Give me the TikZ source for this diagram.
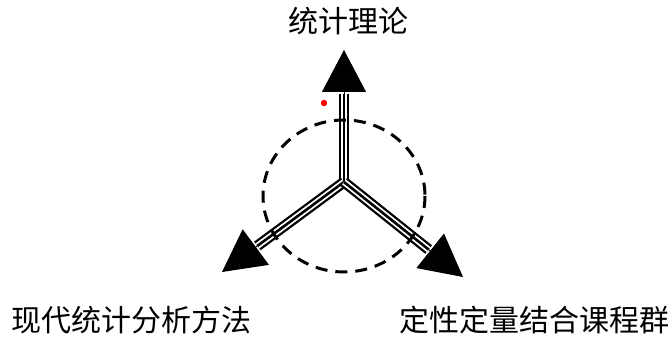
\documentclass[tikz,border=0pt]{standalone}
\usepackage{fontspec}
\newfontfamily\cjk{Noto Sans CJK SC}
\usetikzlibrary{arrows.meta,calc}
\tikzset{
	tripleline/.style={line width=5.4pt, postaction={draw, white, line width=3.1pt}, postaction={draw, black, line width=1.3pt}},
	bigtip/.style={-{Triangle[length=21pt,width=22pt]}, line width=0.5pt},
	lbl/.style={font=\cjk\fontsize{15pt}{18pt}\selectfont, anchor=base, inner sep=0pt}
}
\begin{document}
\begin{tikzpicture}[x=0.5pt,y=-0.5pt]
		\useasboundingbox (0,0) rectangle (670,340);
		%labels
		\node[lbl] (theory) at (348,33) {统计理论};
		\node[lbl] (method) at (131,332) {现代统计分析方法};
		\node[lbl] (course) at (534,332) {定性定量结合课程群};
		%centre and arrow tips
		\coordinate (centre) at (344,182);
		\coordinate (tipup) at (344,50);
		\coordinate (tipleft) at (222,272);
		\coordinate (tipright) at (463,277);
		\coordinate (baseup) at ($(tipup)!22pt!(centre)$);
		\coordinate (baseleft) at ($(tipleft)!22pt!(centre)$);
		\coordinate (baseright) at ($(tipright)!22pt!(centre)$);
		%triple lines
		\draw[tripleline] (centre) -- (baseup);
		\draw[tripleline] (centre) -- (baseleft);
		\draw[tripleline] (centre) -- (baseright);
		%arrow heads
		\draw[bigtip] (baseup) -- (tipup);
		\draw[bigtip] (baseleft) -- (tipleft);
		\draw[bigtip] (baseright) -- (tipright);
		%dashed circle and red dot
		\draw[line width=1.5pt, dash pattern=on 6pt off 4pt] (344,196) ellipse (81 and 76);
		\fill[red] (324,103) circle (1.6pt);
	\end{tikzpicture}
\end{document}
